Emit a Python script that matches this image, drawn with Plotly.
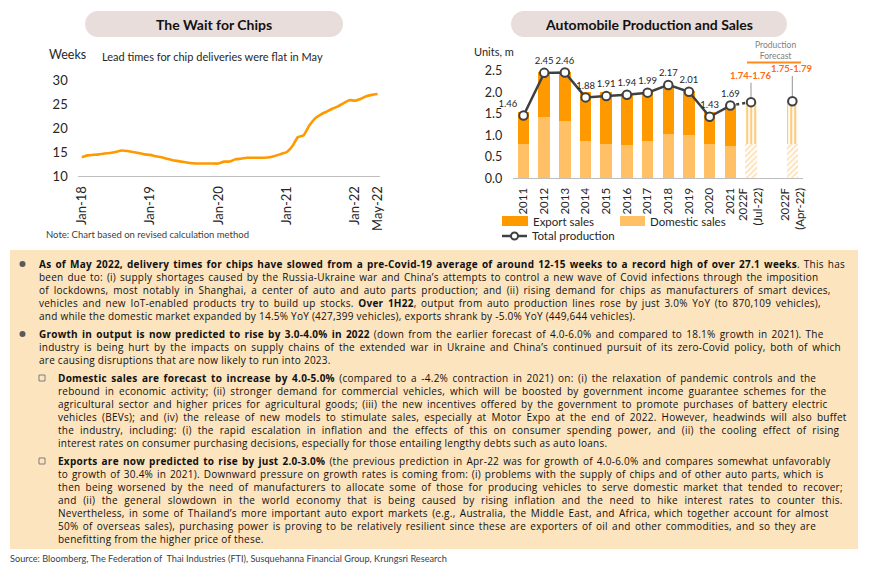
import plotly.graph_objects as go
import pandas as pd

W, H = 870, 570
FONT = "Lato, Carlito, Calibri, sans-serif"
BODY_FONT = "Open Sans, sans-serif"
ORANGE = "#FF9900"
LIGHT = "#FFC066"
DARK = "#404040"

# ---------------- data: chip lead times (weeks), monthly Jan-18 .. May-22
lead_weeks = [13.9, 14.3, 14.4, 14.5, 14.7, 14.8, 15.0, 15.3, 15.2, 15.0, 14.8, 14.5,
              14.4, 14.1, 13.9, 13.6, 13.3, 13.1, 12.9, 12.7, 12.6, 12.6, 12.6, 12.6,
              12.6, 13.0, 13.0, 13.5, 13.6, 13.8, 13.8, 13.8, 13.8, 13.9, 14.2, 14.6,
              15.0, 16.3, 18.1, 18.5, 20.5, 22.0, 22.8, 23.4, 24.0, 24.5, 25.2, 25.8,
              25.7, 26.1, 26.6, 26.9, 27.1]
months = pd.date_range("2018-01-01", periods=len(lead_weeks), freq="MS")
chip_ticks = ["2018-01-01", "2019-01-01", "2020-01-01", "2021-01-01", "2022-01-01", "2022-05-01"]
chip_ticktext = ["Jan-18", "Jan-19", "Jan-20", "Jan-21", "Jan-22", "May-22"]

# ---------------- data: automobile production and sales (million units)
slots = ["2011", "2012", "2013", "2014", "2015", "2016", "2017", "2018", "2019", "2020", "2021",
         "2022F<br>(Jul-22)", None, "2022F<br>(Apr-22)"]
domestic = [0.79, 1.43, 1.34, 0.87, 0.80, 0.77, 0.87, 1.03, 1.00, 0.79, 0.75]
export = [0.74, 1.05, 1.13, 1.14, 1.21, 1.21, 1.14, 1.11, 1.04, 0.75, 0.97]
production = [1.46, 2.45, 2.46, 1.88, 1.91, 1.94, 1.99, 2.17, 2.01, 1.43, 1.69]
fc_domestic = [0.79, 0.79]
fc_export = [0.98, 1.02]
fc_production = [1.77, 1.79]
fc_labels = ["1.74-1.76", "1.75-1.79"]

hist_x = [i for i in range(11)]
fc_x = [i for i, s in enumerate(slots) if s is not None and s.startswith("2022F")]
tick_x = [i for i, s in enumerate(slots) if s is not None]
tick_text = [s for s in slots if s is not None]


def P(x, y):
    return x / W, 1 - y / H


def pill(x0, y0, x1, y1, r):
    k = 0.5523 * r
    pts = [("M", [(x0 + r, y0)]), ("L", [(x1 - r, y0)]),
           ("C", [(x1 - r + k, y0), (x1, y0 + r - k), (x1, y0 + r)]),
           ("L", [(x1, y1 - r)]),
           ("C", [(x1, y1 - r + k), (x1 - r + k, y1), (x1 - r, y1)]),
           ("L", [(x0 + r, y1)]),
           ("C", [(x0 + r - k, y1), (x0, y1 - r + k), (x0, y1 - r)]),
           ("L", [(x0, y0 + r)]),
           ("C", [(x0, y0 + r - k), (x0 + r - k, y0), (x0 + r, y0)])]
    s = ""
    for cmd, ps in pts:
        s += cmd + " " + " ".join("%.5f,%.5f" % P(a, b) for a, b in ps) + " "
    return s + "Z"


fig = go.Figure()

# left chart
fig.add_trace(go.Scatter(x=months, y=lead_weeks, mode="lines", xaxis="x", yaxis="y",
                         line=dict(color=ORANGE, width=2.6, shape="spline", smoothing=0.5),
                         hoverinfo="skip"))

# right chart bars
fig.add_trace(go.Bar(x=hist_x, y=domestic, xaxis="x2", yaxis="y2", width=0.56,
                     marker=dict(color=LIGHT, line=dict(width=0))))
fig.add_trace(go.Bar(x=hist_x, y=export, xaxis="x2", yaxis="y2", width=0.56,
                     marker=dict(color=ORANGE, line=dict(width=0))))
fig.add_trace(go.Bar(x=fc_x, y=fc_domestic, xaxis="x2", yaxis="y2", width=0.56,
                     marker=dict(color="white", line=dict(width=0),
                                 pattern=dict(shape="/", fgcolor=LIGHT, bgcolor="white",
                                              size=4, solidity=0.45))))
fig.add_trace(go.Bar(x=fc_x, y=fc_export, xaxis="x2", yaxis="y2", width=0.56,
                     marker=dict(color="white", line=dict(width=0),
                                 pattern=dict(shape="|", fgcolor=ORANGE, bgcolor="white",
                                              size=4, solidity=0.55))))

# dotted connector to forecast
fig.add_trace(go.Scatter(x=[hist_x[-1], fc_x[0]], y=[production[-1], fc_production[0]],
                         mode="lines", xaxis="x2", yaxis="y2",
                         line=dict(color=DARK, width=2.5, dash="dot")))
# production line
text_pos = ["top left"] + ["top center"] * (len(production) - 1)
fig.add_trace(go.Scatter(x=hist_x, y=production, mode="lines+markers+text", xaxis="x2", yaxis="y2",
                         text=["%.2f" % v for v in production], textposition=text_pos,
                         textfont=dict(family=FONT, size=9.5, color="#262626"),
                         line=dict(color=DARK, width=2.5),
                         marker=dict(size=8.5, color="white", line=dict(color=DARK, width=2)),
                         cliponaxis=False))
fig.add_trace(go.Scatter(x=fc_x, y=fc_production, mode="markers", xaxis="x2", yaxis="y2",
                         marker=dict(size=8.5, color="white", line=dict(color=DARK, width=2)),
                         cliponaxis=False))

shapes = []
annotations = []

# background box for text
x0, y0 = P(10, 250)
x1, y1 = P(858, 549)
shapes.append(dict(type="rect", xref="paper", yref="paper", x0=x0, y0=y1, x1=x1, y1=y0,
                   fillcolor="#FCE4BE", line=dict(width=0), layer="below"))

# title pills
for (a, b, c, d), title in [((85, 11, 343, 37), "The Wait for Chips"),
                            ((511, 11, 787, 37), "Automobile Production and Sales")]:
    shapes.append(dict(type="path", xref="paper", yref="paper", path=pill(a, b, c, d, 13),
                       fillcolor="#E8DDDA", line=dict(width=0), layer="below"))
    tx, ty = P((a + c) / 2, (b + d) / 2)
    annotations.append(dict(x=tx, y=ty, xref="paper", yref="paper", text="<b>%s</b>" % title,
                            showarrow=False, xanchor="center", yanchor="middle",
                            font=dict(family=FONT, size=14, color="#111111")))


def label(x, y, text, size=11, color="#111111", anchor="left", family=FONT, align="left"):
    px, py = P(x, y)
    annotations.append(dict(x=px, y=py, xref="paper", yref="paper", text=text, showarrow=False,
                            xanchor=anchor, yanchor="middle", align=align,
                            font=dict(family=family, size=size, color=color)))


label(47, 55, "Weeks", 12.5, "#262626")
label(100, 57, "Lead times for chip deliveries were flat in May", 11, "#262626")
label(44, 235, "Note: Chart based on revised calculation method", 9.5, "#404040")
label(472, 51, "Units, m", 11, "#262626")
label(775, 50, "Production<br>Forecast", 8.5, "#7F7F7F", "center", align="center")
ox0, oy = P(747, 62.5)
ox1, _ = P(801, 62.5)
shapes.append(dict(type="line", xref="paper", yref="paper", x0=ox0, x1=ox1, y0=oy, y1=oy,
                   line=dict(color="#FF8C1A", width=2)))

# forecast range labels and leader lines (data coords)
for xi, yv, txt, ly, top in zip(fc_x, fc_production, fc_labels, [2.38, 2.55], [2.22, 2.38]):
    shapes.append(dict(type="line", xref="x2", yref="y2", x0=xi, x1=xi, y0=yv + 0.12, y1=top,
                       line=dict(color="#A6A6A6", width=1.2)))
    annotations.append(dict(x=xi, y=ly, xref="x2", yref="y2", text="<b>%s</b>" % txt,
                            showarrow=False, xanchor="center", yanchor="middle",
                            font=dict(family=FONT, size=9.5, color="#FF6A13")))

# legend (manual)
for (bx0, bx1), col, txt in [((502, 528), ORANGE, "Export sales"), ((620, 645), LIGHT, "Domestic sales")]:
    a, b = P(bx0, 216)
    c, d = P(bx1, 226)
    shapes.append(dict(type="rect", xref="paper", yref="paper", x0=a, x1=c, y0=d, y1=b,
                       fillcolor=col, line=dict(width=0)))
    label(bx1 + 3, 221, txt, 11.5, "#262626")
a, b = P(502, 236)
c, _ = P(527, 236)
shapes.append(dict(type="line", xref="paper", yref="paper", x0=a, x1=c, y0=b, y1=b,
                   line=dict(color=DARK, width=2.5)))
a, b = P(511, 232.5)
c, d = P(518, 239.5)
shapes.append(dict(type="circle", xref="paper", yref="paper", x0=a, x1=c, y0=d, y1=b,
                   fillcolor="white", line=dict(color=DARK, width=2)))
label(530, 236, "Total production", 11.5, "#262626")

# body text, one annotation per paragraph
para1 = ["<b>As of May 2022, delivery times for chips have slowed from a pre-Covid-19 average of around 12-15 weeks to a record high of over 27.1 weeks</b>. This has",
         "been due to: (i) supply shortages caused by the Russia-Ukraine war and China’s attempts to control a new wave of Covid infections through the imposition",
         "of lockdowns, most notably in Shanghai, a center of auto and auto parts production; and (ii) rising demand for chips as manufacturers of smart devices,",
         "vehicles and new IoT-enabled products try to build up stocks. <b>Over 1H22</b>, output from auto production lines rose by just 3.0% YoY (to 870,109 vehicles),",
         "and while the domestic market expanded by 14.5% YoY (427,399 vehicles), exports shrank by -5.0% YoY (449,644 vehicles)."]
para2 = ["<b>Growth in output is now predicted to rise by 3.0-4.0% in 2022</b> (down from the earlier forecast of 4.0-6.0% and compared to 18.1% growth in 2021). The",
         "industry is being hurt by the impacts on supply chains of the extended war in Ukraine and China’s continued pursuit of its zero-Covid policy, both of which",
         "are causing disruptions that are now likely to run into 2023."]
para3 = ["<b>Domestic sales are forecast to increase by 4.0-5.0%</b> (compared to a -4.2% contraction in 2021) on: (i) the relaxation of pandemic controls and the",
         "rebound in economic activity; (ii) stronger demand for commercial vehicles, which will be boosted by government income guarantee schemes for the",
         "agricultural sector and higher prices for agricultural goods; (iii) the new incentives offered by the government to promote purchases of battery electric",
         "vehicles (BEVs); and (iv) the release of new models to stimulate sales, especially at Motor Expo at the end of 2022. However, headwinds will also buffet",
         "the industry, including: (i) the rapid escalation in inflation and the effects of this on consumer spending power, and (ii) the cooling effect of rising",
         "interest rates on consumer purchasing decisions, especially for those entailing lengthy debts such as auto loans."]
para4 = ["<b>Exports are now predicted to rise by just 2.0-3.0%</b> (the previous prediction in Apr-22 was for growth of 4.0-6.0% and compares somewhat unfavorably",
         "to growth of 30.4% in 2021). Downward pressure on growth rates is coming from: (i) problems with the supply of chips and of other auto parts, which is",
         "then being worsened by the need of manufacturers to allocate some of those for producing vehicles to serve domestic market that tended to recover;",
         "and (ii) the general slowdown in the world economy that is being caused by rising inflation and the need to hike interest rates to counter this.",
         "Nevertheless, in some of Thailand’s more important auto export markets (e.g., Australia, the Middle East, and Africa, which together account for almost",
         "50% of overseas sales), purchasing power is proving to be relatively resilient since these are exporters of oil and other commodities, and so they are",
         "benefitting from the higher price of these."]

# per-line word spacing (px) to emulate justified text; last lines stay ragged
ws1 = [1.2, 1.1, 2.1, 1.7, 0]
ws2 = [1.27, 1.85, 0]
ws3 = [1.6, 2.1, 1.67, 2.2, 3.1, 0]
ws4 = [1.23, 0.95, 2.27, 3.75, 1.5, 1.4, 0]

BODY_SIZE = 10
SPACING = 1.3 * BODY_SIZE
LS = 0.25
for x, y_first, lines, wss in [(37, 264, para1, ws1), (37, 334, para2, ws2),
                               (56, 378, para3, ws3), (56, 461, para4, ws4)]:
    yc = y_first + (len(lines) - 1) * SPACING / 2
    styled = ['<span style="letter-spacing:%.2fpx;word-spacing:%.2fpx">%s</span>' % (LS, w, ln)
              for ln, w in zip(lines, wss)]
    label(x, yc, "<br>".join(styled), BODY_SIZE, "#111111", family=BODY_FONT)

for y in (264, 334):
    a, b = P(19.5, y - 3)
    c, d = P(25.5, y + 3)
    shapes.append(dict(type="circle", xref="paper", yref="paper", x0=a, x1=c, y0=d, y1=b,
                       fillcolor="#595959", line=dict(width=0)))
for y in (378, 461):
    a, b = P(39, y - 3)
    c, d = P(45, y + 3)
    shapes.append(dict(type="rect", xref="paper", yref="paper", x0=a, x1=c, y0=d, y1=b,
                       fillcolor="rgba(0,0,0,0)", line=dict(color="#7F7F7F", width=1)))

label(8, 558, "Source: Bloomberg, The Federation of  Thai Industries (FTI), Susquehanna Financial Group, Krungsri Research",
      9.2, "#404040")


def dom(top, bottom):
    return [1 - bottom / H, 1 - top / H]


fig.update_layout(
    width=W, height=H, margin=dict(l=0, r=0, t=0, b=0, autoexpand=False),
    paper_bgcolor="white", plot_bgcolor="rgba(0,0,0,0)",
    showlegend=False, barmode="stack", bargap=0.44,
    font=dict(family=FONT, color="#262626"),
    shapes=shapes, annotations=annotations,
    xaxis=dict(domain=[77.7 / W, 380 / W], type="date",
               range=["2017-12-10", "2022-05-14"], tickvals=chip_ticks, ticktext=chip_ticktext,
               tickangle=-90, showgrid=False, zeroline=False, showline=True,
               linecolor="#BFBFBF", linewidth=1, ticks="", ticklabelstandoff=4,
               tickfont=dict(family=FONT, size=13, color="#262626"), anchor="y"),
    yaxis=dict(domain=dom(80, 176), range=[10, 30], tickvals=[10, 15, 20, 25, 30],
               showgrid=False, zeroline=False, showline=False, ticks="", ticklabelstandoff=9,
               tickfont=dict(family=FONT, size=13, color="#262626"), anchor="x"),
    xaxis2=dict(domain=[513.2 / W, 802.7 / W], range=[-0.5, 13.5], tickvals=tick_x, ticktext=tick_text,
                tickangle=-90, showgrid=False, zeroline=False, showline=True,
                linecolor="#BFBFBF", linewidth=1, ticks="", ticklabelstandoff=4,
                tickfont=dict(family=FONT, size=11.5, color="#262626"), anchor="y2"),
    yaxis2=dict(domain=dom(49.2, 178.3), range=[0, 3],
                tickvals=[0, 0.5, 1.0, 1.5, 2.0, 2.5], tickformat=".1f",
                showgrid=False, zeroline=False, showline=False, ticks="", ticklabelstandoff=10,
                tickfont=dict(family=FONT, size=12.5, color="#262626"), anchor="x2"),
)

fig.write_html("out.html", config={"displayModeBar": False},
               post_script="document.body.style.margin='0px';")
